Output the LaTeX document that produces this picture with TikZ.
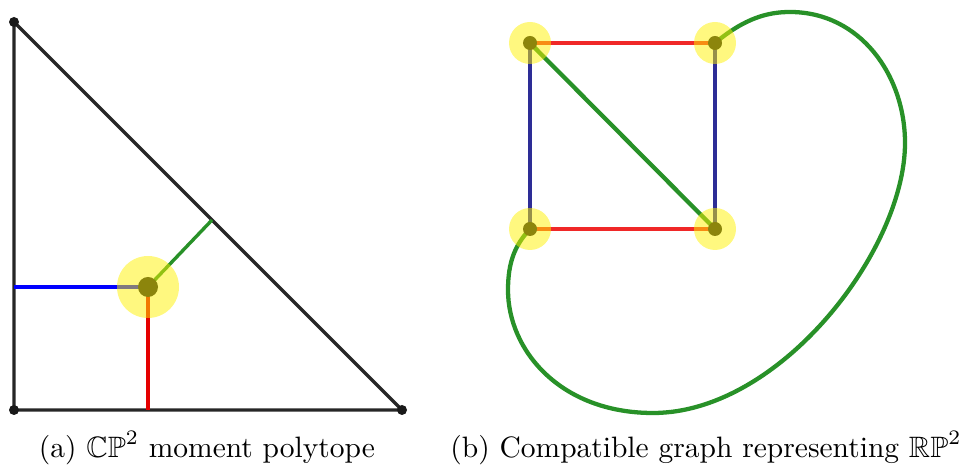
\documentclass[tikz,border=0pt]{standalone}
\usepackage{amssymb}
\definecolor{edgered}{RGB}{240,40,40}
\definecolor{edgeblue}{RGB}{45,45,150}
\definecolor{edgegreen}{RGB}{40,145,40}
\tikzset{
  halo/.style={fill=yellow, opacity=0.5},
  vdot/.style={fill=black!90},
  edge/.style={line width=1.15pt},
  gedge/.style={line width=1.45pt},
}
\begin{document}
\begin{tikzpicture}[x=0.339pt, y=-0.339pt]
		\useasboundingbox (0,0) rectangle (959,467);
		
		% Moment polytope
		\coordinate (top) at (14,22);
		\coordinate (origin) at (14,410);
		\coordinate (right) at (402,410);
		\coordinate (fixed) at (148,287);
		\coordinate (left foot) at (14,287);
		\coordinate (low foot) at (148,410);
		\coordinate (diag foot) at (212,220);
		\draw[edge, black!85] (top) -- (origin) -- (right) -- cycle;
		\draw[edge, blue] (left foot) -- (fixed);
		\draw[edge, red!90!black] (fixed) -- (low foot);
		\draw[edge, edgegreen] (fixed) -- (diag foot);
		\foreach \v in {top, origin, right}
			\fill[vdot] (\v) circle (5);
		\fill[vdot] (fixed) circle (10);
		\fill[halo] (fixed) circle (31);
		
		% Graph
		\coordinate (a) at (530,43);
		\coordinate (b) at (715,43);
		\coordinate (c) at (530,229);
		\coordinate (d) at (715,229);
		\draw[gedge, edgered] (a) -- (b);
		\draw[gedge, edgered] (c) -- (d);
		\draw[gedge, edgeblue] (a) -- (c);
		\draw[gedge, edgeblue] (b) -- (d);
		\draw[gedge, edgegreen] (a) -- (d);
		\draw[gedge, edgegreen] (b) .. controls (745,18) and (768,12) .. (790,12)
			.. controls (860,12) and (905,75) .. (905,143)
			.. controls (905,250) and (780,413) .. (653,413)
			.. controls (560,413) and (508,350) .. (508,290)
			.. controls (508,262) and (515,245) .. (c);
		\foreach \v in {a, b, c, d} {
			\fill[vdot] (\v) circle (7);
			\fill[halo] (\v) circle (21);
		}
		
		% Captions
		\node (cap a) at (207,448) {(a) $\mathbb{CP}^2$ moment polytope};
		\node (cap b) at (706,448) {(b) Compatible graph representing $\mathbb{RP}^2$};
	\end{tikzpicture}
\end{document}
